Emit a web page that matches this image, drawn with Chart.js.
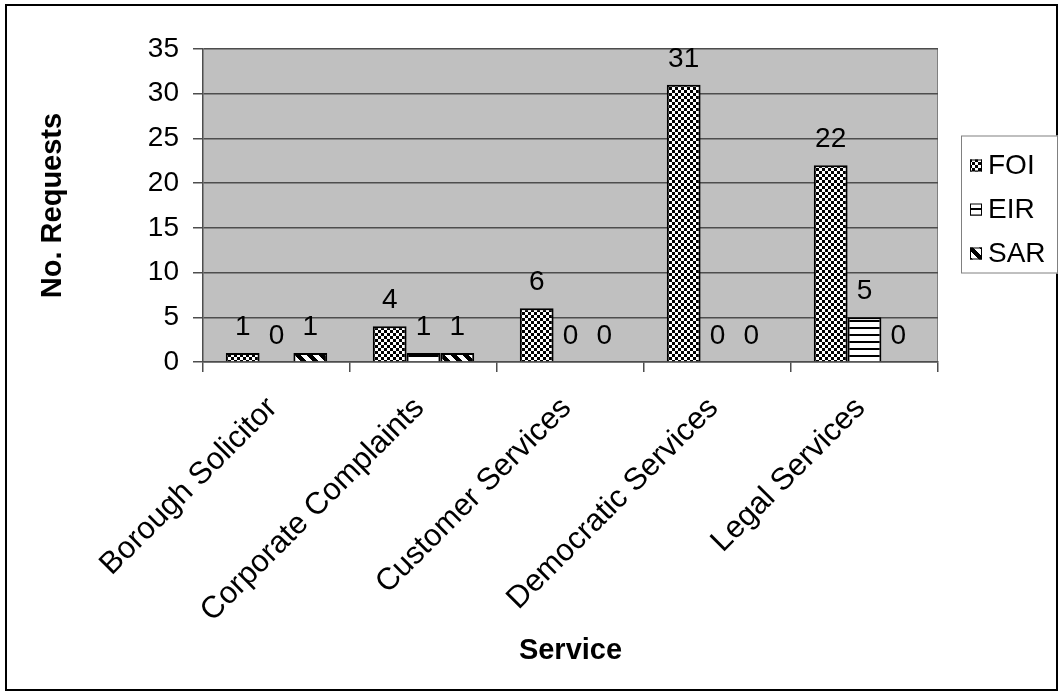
<!DOCTYPE html>
<html>
<head>
<meta charset="utf-8">
<script src="https://cdn.jsdelivr.net/npm/chart.js@4/dist/chart.umd.min.js"></script>
<style>
  html, body { margin: 0; padding: 0; background: #fff; }
  canvas { display: block; }
</style>
</head>
<body>
<canvas id="chart" width="1063" height="698"></canvas>
<script>
// Requests received per service, by request type
const services = ['Borough Solicitor', 'Corporate Complaints', 'Customer Services', 'Democratic Services', 'Legal Services'];
const foiRequests = [1, 4, 6, 31, 22];
const eirRequests = [0, 1, 0, 0, 5];
const sarRequests = [1, 1, 0, 0, 0];
const seriesNames = ['FOI', 'EIR', 'SAR'];
const yAxisMax = 35;
const yAxisStep = 5;

const FONT = '"Liberation Sans", Arial, Helvetica, sans-serif';
const GRID = '#4d4d4d';

// Monochrome fill patterns for the bars
function makePattern(w, h, paint) {
  const tile = document.createElement('canvas');
  tile.width = w; tile.height = h;
  const g = tile.getContext('2d');
  g.fillStyle = '#fff';
  g.fillRect(0, 0, w, h);
  g.fillStyle = '#000';
  paint(g, w, h);
  return g.createPattern(tile, 'repeat');
}
const checkerFill = makePattern(6, 6, g => { g.fillRect(0, 0, 3, 3); g.fillRect(3, 3, 3, 3); });
const hStripeFill = makePattern(7, 7, g => { g.fillRect(0, 5, 7, 2); });
const diagFill = makePattern(12, 12, (g, w, h) => {
  for (let y = 0; y < h; y++) for (let x = 0; x < w; x++) {
    if (((x - y) % 12 + 12) % 12 < 6) g.fillRect(x, y, 1, 1);
  }
});
const fills = [checkerFill, hStripeFill, diagFill];

// Page frame and grey plot area
const frame = {
  id: 'frame',
  beforeDraw(chart) {
    const { ctx, chartArea: a } = chart;
    ctx.save();
    ctx.fillStyle = '#fff';
    ctx.fillRect(0, 0, chart.width, chart.height);
    ctx.strokeStyle = '#000';
    ctx.lineWidth = 2;
    ctx.strokeRect(6, 5, chart.width - 12, chart.height - 13);
    ctx.fillStyle = '#c0c0c0';
    ctx.fillRect(a.left, a.top, a.right - a.left, a.bottom - a.top);
    ctx.strokeStyle = '#808080';
    ctx.lineWidth = 1;
    ctx.beginPath();
    ctx.moveTo(a.right - 0.5, a.top);
    ctx.lineTo(a.right - 0.5, a.bottom);
    ctx.stroke();
    ctx.restore();
  }
};

// Value printed above each bar
const valueLabels = {
  id: 'valueLabels',
  afterDatasetsDraw(chart) {
    const ctx = chart.ctx;
    ctx.save();
    ctx.font = '28px ' + FONT;
    ctx.fillStyle = '#000';
    ctx.textAlign = 'center';
    ctx.textBaseline = 'alphabetic';
    chart.data.datasets.forEach((ds, i) => {
      chart.getDatasetMeta(i).data.forEach((bar, j) => {
        ctx.fillText(String(ds.data[j]), bar.x, bar.y - 18);
      });
    });
    ctx.restore();
  }
};

// Boxed legend on the right
const boxedLegend = {
  id: 'boxedLegend',
  afterDraw(chart) {
    const ctx = chart.ctx;
    const a = chart.chartArea;
    const mid = (a.top + a.bottom) / 2;
    const boxL = 961, boxR = chart.width - 5, boxT = mid - 70, boxB = mid + 68;
    ctx.save();
    ctx.fillStyle = '#fff';
    ctx.fillRect(boxL, boxT, boxR - boxL, boxB - boxT);
    ctx.strokeStyle = '#808080';
    ctx.lineWidth = 1;
    ctx.strokeRect(boxL + 0.5, boxT + 0.5, boxR - boxL - 1, boxB - boxT - 1);
    ctx.font = '28px ' + FONT;
    ctx.textAlign = 'left';
    ctx.textBaseline = 'middle';
    chart.data.datasets.forEach((ds, i) => {
      const cy = mid - 40 + i * 44;
      ctx.fillStyle = ds.backgroundColor;
      ctx.fillRect(970, cy - 6, 12, 12);
      ctx.strokeStyle = '#000';
      ctx.lineWidth = 1;
      ctx.strokeRect(970.5, cy - 5.5, 11, 11);
      ctx.fillStyle = '#000';
      ctx.fillText(ds.label, 988, cy + 1);
    });
    ctx.restore();
  }
};

const seriesData = [foiRequests, eirRequests, sarRequests];

new Chart(document.getElementById('chart'), {
  type: 'bar',
  data: {
    labels: services,
    datasets: seriesNames.map((name, i) => ({
      label: name,
      data: seriesData[i],
      backgroundColor: fills[i],
      borderColor: '#000',
      borderWidth: 2,
      categoryPercentage: 0.69,
      barPercentage: 1
    }))
  },
  options: {
    responsive: false,
    devicePixelRatio: 1,
    animation: false,
    events: [],
    layout: { padding: { left: 0, top: 49, right: 125, bottom: 0 } },
    plugins: {
      legend: { display: false },
      tooltip: { enabled: false },
      title: { display: false }
    },
    scales: {
      x: {
        ticks: {
          color: '#000',
          font: { family: FONT, size: 31 },
          maxRotation: 45,
          minRotation: 45,
          autoSkip: false,
          padding: 18,
          labelOffset: -4
        },
        grid: { drawOnChartArea: false, drawTicks: true, tickLength: 10, color: GRID, lineWidth: 1.5, offset: true },
        border: { color: GRID, width: 1.5 },
        title: {
          display: true,
          text: 'Service',
          color: '#000',
          font: { family: FONT, size: 29, weight: 'bold' },
          padding: { top: 0, bottom: 30 }
        },
        afterFit(scale) { scale.height = 336; }
      },
      y: {
        min: 0,
        max: yAxisMax,
        ticks: {
          stepSize: yAxisStep,
          color: '#000',
          font: { family: FONT, size: 28 },
          padding: 14
        },
        grid: { color: GRID, lineWidth: 1.5, tickLength: 10, drawTicks: true },
        border: { color: GRID, width: 1.5 },
        title: {
          display: true,
          text: 'No. Requests',
          color: '#000',
          font: { family: FONT, size: 29, weight: 'bold' },
          padding: { top: 36, bottom: 0 }
        },
        afterFit(scale) { scale.width = 203; }
      }
    }
  },
  plugins: [frame, valueLabels, boxedLegend]
});
</script>
</body>
</html>
